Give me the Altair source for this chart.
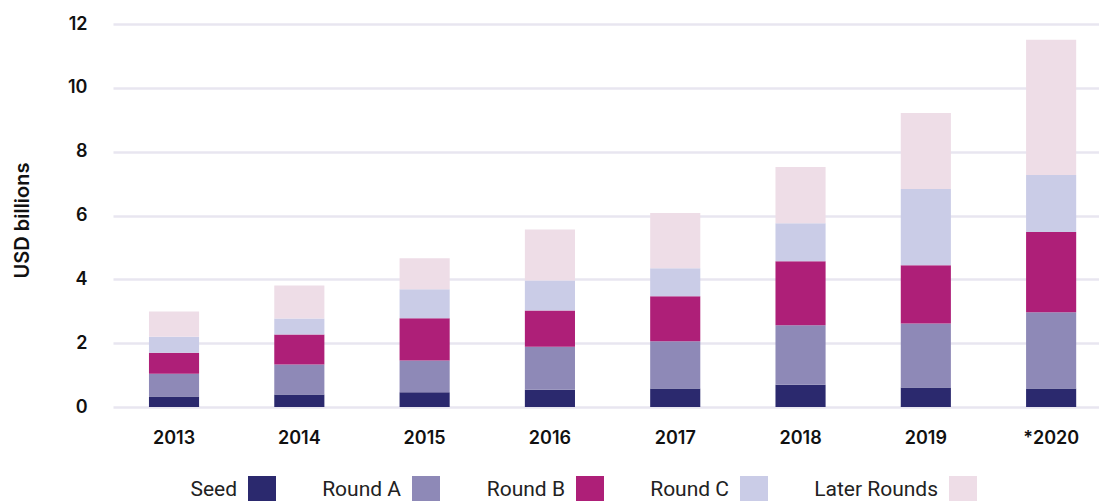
import altair as alt
import pandas as pd

years = ["2013", "2014", "2015", "2016", "2017", "2018", "2019", "*2020"]
seed = [0.33, 0.39, 0.46, 0.54, 0.58, 0.70, 0.61, 0.58]
round_a = [0.71, 0.94, 1.00, 1.35, 1.48, 1.86, 2.01, 2.39]
round_b = [0.66, 0.94, 1.32, 1.13, 1.41, 2.01, 1.82, 2.51]
round_c = [0.50, 0.50, 0.91, 0.94, 0.88, 1.19, 2.39, 1.79]
later = [0.79, 1.04, 0.97, 1.60, 1.73, 1.76, 2.38, 4.24]
stages = ["Seed", "Round A", "Round B", "Round C", "Later Rounds"]
colors = ["#2b296e", "#8e89b7", "#ae1f78", "#cacce7", "#eedde7"]
y_ticks = [0, 2, 4, 6, 8, 10, 12]

series = [seed, round_a, round_b, round_c, later]
rows = []
for i, yr in enumerate(years):
    for j, s in enumerate(stages):
        rows.append({"year": yr, "stage": s, "ord": j, "value": series[j][i]})
df = pd.DataFrame(rows)

chart = alt.Chart(df).mark_bar().encode(
    x=alt.X(
        "year:N", sort=years, title=None,
        scale=alt.Scale(paddingInner=0.6, paddingOuter=0.2345, align=0.612),
        axis=alt.Axis(labelAngle=0, labelFont="Inter", labelFontSize=18, labelFontWeight=600,
                      labelColor="#111111", labelPadding=22, ticks=False, domain=False, grid=False),
    ),
    y=alt.Y(
        "value:Q", stack="zero", title="USD billions",
        scale=alt.Scale(domain=[0, 12], nice=False),
        axis=alt.Axis(values=y_ticks, labelFont="Inter", labelFontSize=18, labelFontWeight=600,
                      labelColor="#111111", labelPadding=26, ticks=False, domain=False,
                      gridColor="#e8e6f0", gridWidth=2.5,
                      titleFont="Inter", titleFontSize=20, titleFontWeight=600,
                      titleColor="#111111", titlePadding=35, titleY=196),
    ),
    color=alt.Color(
        "stage:N", sort=stages,
        scale=alt.Scale(domain=stages, range=colors),
        legend=alt.Legend(
            title=None, orient="none", direction="horizontal", legendX=135, legendY=452,
            symbolType="square", symbolSize=784, symbolStrokeWidth=0, symbolOpacity=1,
            labelFont="Roboto", labelFontSize=21, labelColor="#222222",
            labelAlign="right", labelOffset={"expr": "-39"}, columnPadding=46, padding=0,
        ),
    ),
    order=alt.Order("ord:Q", sort="ascending"),
).properties(
    width=986, height=383,
    padding={"top": 7, "left": 4, "right": 0, "bottom": 0},
).configure_view(stroke=None)

chart.save("out.html", embed_options={"renderer": "svg", "actions": False})
